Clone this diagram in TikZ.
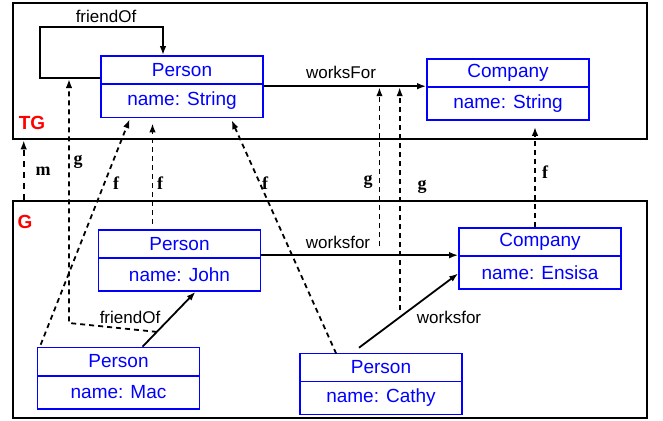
\documentclass[tikz,border=0pt]{standalone}
\usepackage{fontspec}
\setmainfont{Liberation Sans}
\newfontfamily\mapfont{Liberation Serif}
\usetikzlibrary{positioning,arrows.meta}
\tikzstyle{head}=[rectangle, draw=blue, line width=1.6pt, text=blue, minimum width=162pt, minimum height=28pt, inner sep=0pt, font=\fontsize{19}{22}\selectfont]
\tikzstyle{attr}=[head, minimum height=33pt]
\tikzstyle{frame}=[rectangle, draw=black, line width=2.6pt, minimum width=634pt, inner sep=0pt]
\tikzstyle{edge}=[line width=1.8pt, -{Latex[length=9pt,width=6.5pt]}]
\tikzstyle{morph}=[line width=1.8pt, dash pattern=on 5pt off 4pt, -{Latex[length=9pt,width=6.5pt]}]
\tikzstyle{lbl}=[inner sep=0pt, font=\fontsize{17}{20}\selectfont]
\tikzstyle{maplbl}=[inner sep=0pt, font=\mapfont\bfseries\fontsize{18}{20}\selectfont]
\tikzstyle{gname}=[inner sep=0pt, text=red, font=\bfseries\fontsize{19}{22}\selectfont]
\begin{document}
\begin{tikzpicture}[x=1pt,y=-1pt]
				\useasboundingbox (0,0) rectangle (663,420);
				%The two graphs
				\draw (330,71) node[frame, minimum height=136pt] (TG) {};
				\draw (330,309.5) node[frame, minimum height=217pt] (G) {};
				\draw (32,123) node[gname] (tgname) {TG};
				\draw (25,222) node[gname] (gname) {G};
				
				%The type graph
				\draw (182,70) node[head] (tp) {Person};
				\draw (182,101) node[attr] (tpb) {name: String};
				\draw (508,73) node[head] (tc) {Company};
				\draw (508,103.5) node[attr] (tcb) {name: String};
				
				%The instance graph
				\draw (179.5,244) node[head] (john) {Person};
				\draw (179.5,274.5) node[attr] (johnb) {name: John};
				\draw (118.5,361.5) node[head] (mac) {Person};
				\draw (118.5,392.5) node[attr] (macb) {name: Mac};
				\draw (381,367.5) node[head] (cathy) {Person};
				\draw (381,398) node[attr] (cathyb) {name: Cathy};
				\draw (540,242) node[head] (ens) {Company};
				\draw (540,272.5) node[attr] (ensb) {name: Ensisa};
				
				%Edges of TG
				\coordinate (loop) at (40,27);
				\draw[edge] ([yshift=-8pt]tp.west) -| (loop) -| ([xshift=-19pt]tp.north);
				\draw (106,16) node[lbl] (tfo) {friendOf};
				\draw[edge] (tcb.north west -| tpb.east) -- (tcb.north west);
				\draw (341,72) node[lbl] (twf) {worksFor};
				
				%Edges of G
				\draw[edge] ([xshift=24pt]mac.north) -- ([xshift=16pt]johnb.south) coordinate[pos=0.27] (gfo);
				\draw (130,317) node[lbl] (gfol) {friendOf};
				\draw[edge] (ensb.north west -| johnb.east) -- (ensb.north west) coordinate[pos=0.6] (gwf);
				\draw (338,242) node[lbl] (gwfl) {worksfor};
				\draw[edge] ([xshift=-22pt,yshift=5pt]cathy.north) -- ([yshift=-1pt]ensb.west) coordinate[pos=0.41] (cwf);
				\draw (449,317) node[lbl] (cwfl) {worksfor};
				
				%The morphisms
				\draw[morph, dash pattern=on 6pt off 5pt] ([xshift=12pt]G.north west) -- ([xshift=12pt]TG.south west);
				\draw (43,171) node[maplbl] (m) {m};
				\draw[morph] (gfo) -- (69,323) -- (69,79);
				\draw (78,162) node[maplbl] (g1) {g};
				\draw[morph, shorten >=1pt] ([xshift=4pt,yshift=2pt]mac.north west) -- ([xshift=-52pt]tpb.south);
				\draw (116,183) node[maplbl] (f1) {f};
				\draw[morph, shorten <=5pt, shorten >=5pt] ([xshift=-27pt]john.north) -- ([xshift=-27pt]john.north |- tpb.south);
				\draw (160,183) node[maplbl] (f2) {f};
				\draw[morph, shorten >=2pt] ([xshift=37pt,yshift=-1pt]cathy.north west) -- ([xshift=-33pt]tpb.south east);
				\draw (265,183) node[maplbl] (f3) {f};
				\draw[morph, shorten <=9pt, shorten >=1pt] (gwf) -- (gwf |- tcb.north);
				\draw (368,182) node[maplbl] (g2) {g};
				\draw[morph, shorten <=7pt, shorten >=1pt] (cwf) -- (cwf |- tcb.north);
				\draw (422,187) node[maplbl] (g3) {g};
				\draw[morph, shorten >=6pt] ([xshift=-5pt]ens.north) -- ([xshift=-5pt]ens.north |- tcb.south);
				\draw (545,172) node[maplbl] (f4) {f};
\end{tikzpicture}
\end{document}
